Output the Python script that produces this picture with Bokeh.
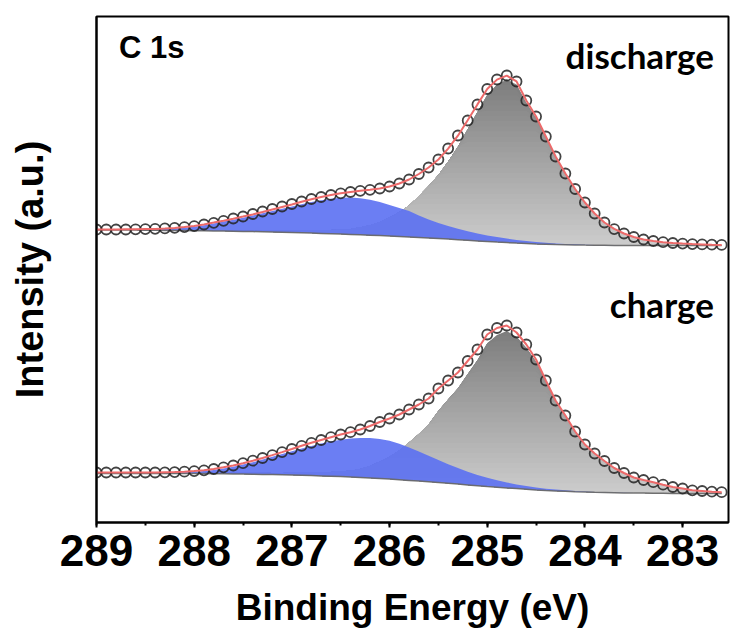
import numpy as np
from bokeh.plotting import figure
from bokeh.models import Range1d, SingleIntervalTicker, FixedTicker, Label
from bokeh.embed import file_html
from bokeh.resources import INLINE

# Binding energy grid (eV)
energy = [289.0, 288.9, 288.8, 288.7, 288.6, 288.5, 288.4, 288.3, 288.2, 288.1,
          288.0, 287.9, 287.8, 287.7, 287.6, 287.5, 287.4, 287.3, 287.2, 287.1,
          287.0, 286.9, 286.8, 286.7, 286.6, 286.5, 286.4, 286.3, 286.2, 286.1,
          286.0, 285.9, 285.8, 285.7, 285.6, 285.5, 285.4, 285.3, 285.2, 285.1,
          285.0, 284.9, 284.8, 284.7, 284.6, 284.5, 284.4, 284.3, 284.2, 284.1,
          284.0, 283.9, 283.8, 283.7, 283.6, 283.5, 283.4, 283.3, 283.2, 283.1,
          283.0, 282.9, 282.8, 282.7, 282.6]

# ---- discharge (upper spectrum), intensity in a.u. ----
discharge_data = [293, 293, 293, 293, 293.2, 293.4, 293.7, 294.1, 294.7, 295.4,
                  296.4, 298, 299.7, 301.7, 304, 306, 308.5, 311, 313.5, 316,
                  318.5, 321, 323.5, 325.5, 327.5, 329.2, 330.5, 331.7, 332.7, 334,
                  336, 339, 343, 348.5, 355, 363, 374, 387, 402, 418,
                  433.5, 443, 447, 441, 422, 406, 386, 366, 349, 333.5,
                  320, 309, 300, 293.4, 289, 285.5, 283, 281.5, 280.3, 279.5,
                  278.9, 278.4, 278.1, 277.8, 277.6]
discharge_bg = [292.5, 292.5, 292.5, 292.5, 292.4, 292.3, 292.2, 292.1, 292.0, 291.9,
                291.8, 291.7, 291.6, 291.5, 291.3, 291.1, 290.9, 290.7, 290.5, 290.3,
                290.0, 289.7, 289.4, 289.1, 288.8, 288.5, 288.1, 287.7, 287.3, 286.9,
                286.5, 286.0, 285.5, 285.0, 284.5, 284.0, 283.4, 282.8, 282.2, 281.6,
                281.0, 280.4, 279.9, 279.4, 279.0, 278.6, 278.3, 278.0, 277.8, 277.6,
                277.4, 277.3, 277.2, 277.1, 277.0, 277.0, 277.0, 277.0, 277.0, 277.0,
                277.0, 277.0, 277.0, 277.0, 277.0]
discharge_peak_286 = [0, 0, 0.1, 0.2, 0.4, 0.6, 0.8, 1.3, 2, 2.9,
                      4, 5.6, 7.5, 9.4, 11.5, 13.7, 16, 18.5, 21, 23.5,
                      26, 28.6, 31, 33.2, 35, 36.3, 37, 36.6, 35.5, 33.5,
                      31, 28.6, 26, 22, 18.5, 15.5, 13, 11, 9, 7.5,
                      6, 5, 4, 3.2, 2.5, 2, 1.5, 1.1, 0.8, 0.6,
                      0.4, 0.3, 0.2, 0.1, 0, 0, 0, 0, 0, 0,
                      0, 0, 0, 0, 0]
discharge_peak_284 = [0.4, 0.4, 0.4, 0.5, 0.5, 0.5, 0.5, 0.6, 0.6, 0.7,
                      0.7, 0.8, 0.8, 0.9, 1.0, 1.1, 1.2, 1.3, 1.5, 1.7,
                      2.0, 2.4, 2.8, 3.2, 3.7, 4.5, 5.5, 7.5, 10, 13.6,
                      18.5, 24.4, 31.5, 41.5, 52, 63.5, 77.5, 93, 111, 129,
                      146.5, 157.5, 163, 158.5, 140.5, 125.4, 106.2, 87, 70.4, 55.3,
                      42.2, 31.4, 22.6, 16.4, 12, 8.5, 6, 4.5, 3.3, 2.5,
                      1.9, 1.4, 1.1, 0.8, 0.6]

# ---- charge (lower spectrum) ----
charge_data = [50, 50, 50, 50, 50, 50, 50, 50.2, 50.4, 50.8,
               51.4, 52.2, 53.5, 55.2, 57, 59.3, 61.8, 64.5, 67.4, 70.4,
               73.5, 76.7, 79.7, 82.5, 85.3, 88, 90.3, 93, 96.5, 100.5,
               104, 108, 113, 118, 124, 134, 142, 150, 161.5, 173,
               188, 194.5, 197, 190, 178, 163, 142, 122, 107, 91,
               78, 69, 61.5, 54.5, 49.5, 45, 42.5, 40.3, 37.8, 35.5,
               34, 32.2, 31.5, 30.8, 30.3]
charge_bg = [49, 49, 49, 49, 49, 49, 49, 49, 49, 49,
             49, 48.9, 48.8, 48.7, 48.6, 48.5, 48.3, 48.1, 47.9, 47.7,
             47.5, 47.2, 46.9, 46.6, 46.3, 46.0, 45.5, 45.0, 44.5, 44.0,
             43.5, 42.8, 42.1, 41.4, 40.7, 40.0, 39.2, 38.4, 37.6, 36.8,
             36.0, 35.3, 34.6, 33.9, 33.2, 32.5, 32.0, 31.6, 31.2, 30.8,
             30.5, 30.2, 30.0, 29.8, 29.6, 29.5, 29.4, 29.3, 29.2, 29.1,
             29.0, 29.0, 29.0, 29.0, 29.0]
charge_peak_286 = [0.2, 0.2, 0.3, 0.3, 0.4, 0.5, 0.6, 0.8, 1.0, 1.3,
                   1.8, 2.6, 3.8, 5.4, 7.2, 9.4, 12, 14.8, 17.8, 20.8,
                   23.8, 26.8, 29.6, 32.3, 34.8, 36.8, 38.5, 39.6, 40, 39.6,
                   38.3, 36, 33, 29.5, 26, 22.5, 19, 16, 13.2, 10.8,
                   8.8, 7, 5.5, 4.2, 3.2, 2.4, 1.8, 1.3, 1.0, 0.7,
                   0.5, 0.4, 0.3, 0.2, 0.1, 0, 0, 0, 0, 0,
                   0, 0, 0, 0, 0]
charge_peak_284 = [0.8, 0.8, 0.7, 0.7, 0.6, 0.5, 0.4, 0.4, 0.4, 0.5,
                   0.6, 0.7, 0.9, 1.1, 1.2, 1.4, 1.5, 1.6, 1.7, 1.9,
                   2.2, 2.7, 3.2, 3.6, 4.2, 5.2, 6.3, 8.4, 12, 16.9,
                   22.2, 29.2, 37.9, 47.1, 57.3, 71.5, 83.8, 95.6, 110.7, 125.4,
                   143.2, 152.2, 156.9, 151.9, 141.6, 128.1, 108.2, 89.1, 74.8, 59.5,
                   47, 38.4, 31.2, 24.5, 19.8, 15.5, 13.1, 11, 8.6, 6.4,
                   5, 3.2, 2.5, 1.8, 1.3]

tick_interval = 1
panel_labels = ["discharge", "charge"]
panel_label_y = [468, 219]

p = figure(width=730, height=633, output_backend="svg", toolbar_location=None,
           x_range=Range1d(289, 282.53), y_range=Range1d(0, 506),
           min_border_left=96, min_border_right=2, min_border_top=16,
           min_border_bottom=111)
p.background_fill_color = "white"
p.border_fill_color = "white"
p.grid.visible = False
p.outline_line_color = "black"
p.outline_line_width = 2
p.outline_line_alpha = 1.0

x = np.array(energy)


def mix(c1, c2, t):
    a = [int(c1[i:i + 2], 16) for i in (1, 3, 5)]
    b = [int(c2[i:i + 2], 16) for i in (1, 3, 5)]
    return "#%02x%02x%02x" % tuple(int(round(a[j] + (b[j] - a[j]) * t)) for j in range(3))


panels = [(discharge_bg, discharge_peak_286, discharge_peak_284, discharge_data),
          (charge_bg, charge_peak_286, charge_peak_284, charge_data)]

for bg, pk_blue, pk_gray, data in panels:
    bg = np.array(bg, dtype=float)
    top_gray = bg + np.array(pk_gray, dtype=float)
    top_blue = bg + np.array(pk_blue, dtype=float)
    fit = bg + np.array(pk_blue, dtype=float) + np.array(pk_gray, dtype=float)
    hi = top_gray.max()
    lo = bg.min()
    n = 32
    for k in range(n):
        level = hi - (hi - lo) * k / n
        col = mix("#7e7e7e", "#cbcbcb", k / (n - 1))
        y2 = np.maximum(bg, np.minimum(top_gray, level))
        p.varea(x=x, y1=bg, y2=y2, fill_color=col, fill_alpha=1.0)
    p.varea(x=x, y1=bg, y2=top_blue, fill_color="#5b70f2", fill_alpha=0.9)
    p.line(x, bg, line_color="#666666", line_width=1.5, line_alpha=0.9)
    p.scatter(x, np.array(data), marker="circle", size=10, fill_color=None,
              line_color="#222222", line_width=1.8, line_alpha=0.85)
    p.line(x, fit, line_color="#ec6a6a", line_width=2)

# x axis
xa = p.xaxis[0]
xa.ticker = SingleIntervalTicker(interval=tick_interval, num_minor_ticks=2)
xa.axis_line_width = 2
xa.axis_line_color = "black"
xa.major_tick_line_width = 2
xa.minor_tick_line_width = 2
xa.major_tick_in = 0
xa.major_tick_out = 5
xa.minor_tick_in = 0
xa.minor_tick_out = 3
xa.major_label_text_font = "Liberation Sans"
xa.major_label_text_font_style = "bold"
xa.major_label_text_font_size = "44px"
xa.major_label_text_color = "black"
xa.major_label_standoff = 7
xa.axis_label = "Binding Energy (eV)"
xa.axis_label_text_font = "Liberation Sans"
xa.axis_label_text_font_style = "bold"
xa.axis_label_text_font_size = "37px"
xa.axis_label_text_color = "black"
xa.axis_label_standoff = 18

# y axis
ya = p.yaxis[0]
ya.ticker = FixedTicker(ticks=[])
ya.axis_line_width = 2
ya.axis_line_color = "black"
ya.major_tick_out = 0
ya.major_tick_in = 0
ya.minor_tick_out = 0
ya.minor_tick_in = 0
ya.major_label_standoff = 0
ya.axis_label = "Intensity (a.u.)"
ya.axis_label_text_font = "Liberation Sans"
ya.axis_label_text_font_style = "bold"
ya.axis_label_text_font_size = "38px"
ya.axis_label_text_color = "black"
ya.axis_label_standoff = 46

p.add_layout(Label(x=288.77, y=475, text="C 1s", text_font="Liberation Sans",
                   text_font_style="bold", text_font_size="31px", text_color="black",
                   text_align="left", text_baseline="alphabetic"))
for lab, ly in zip(panel_labels, panel_label_y):
    p.add_layout(Label(x=282.68, y=ly, text=lab, text_font="Lato",
                       text_font_style="bold", text_font_size="35px", text_color="black",
                       text_align="right", text_baseline="alphabetic"))

open("out.html", "w").write(file_html(p, INLINE))
